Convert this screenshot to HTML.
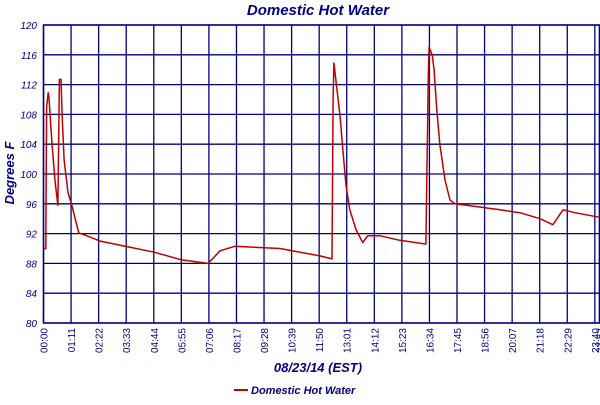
<!DOCTYPE html>
<html><head><meta charset="utf-8"><style>
body{margin:0;background:#fff;width:600px;height:400px;overflow:hidden}
svg{font-family:"Liberation Sans",sans-serif}
</style></head><body>
<svg id="chart" width="600" height="400" xmlns="http://www.w3.org/2000/svg">
<text x="318" y="15" text-anchor="middle" font-size="15" font-weight="bold" font-style="italic" fill="#000080">Domestic Hot Water</text>
<g id="grid"></g><g id="series"></g><g id="labels"></g>
<text transform="translate(14,173) rotate(-90)" text-anchor="middle" font-size="13" font-weight="bold" font-style="italic" fill="#000080">Degrees F</text>
<text x="318" y="372" text-anchor="middle" font-size="13" font-weight="bold" font-style="italic" fill="#000080">08/23/14 (EST)</text>
<g>
<line x1="234" y1="390" x2="248" y2="390" stroke="#c00000" stroke-width="2"/>
<text x="251" y="394" font-size="11" font-weight="bold" font-style="italic" fill="#000080">Domestic Hot Water</text>
</g>
</svg>
<script>
const xTicks=[0,71,142,213,284,355,426,497,568,639,710,781,852,923,994,1065,1136,1207,1278,1349,1420,1432];
const xTickLabels=["00:00","01:11","02:22","03:33","04:44","05:55","07:06","08:17","09:28","10:39","11:50","13:01","14:12","15:23","16:34","17:45","18:56","20:07","21:18","22:29","23:40","23:52"];
const yTicks=[80,84,88,92,96,100,104,108,112,116,120];
const times=[0,6,8,12,14,22,30,37,41,45,48,53,63,73,84,91,107,146,220,285,354,424,455,493,609,661,712,743,746,748,764,771,779,789,805,822,835,867,918,983,985,991,993,1001,1006,1013,1021,1034,1047,1060,1176,1227,1279,1312,1338,1369,1431];
const temps=[90,90,109,110.9,110.4,104,99,95.8,112.7,112.7,108,101.9,97.5,95.8,93.5,92.1,91.8,91,90.2,89.5,88.5,88,89.7,90.3,90,89.5,89,88.6,110,114.9,107.7,103.2,98.5,95.2,92.5,90.8,91.7,91.7,91.1,90.6,90.6,113.3,117,116,114,108.6,103.9,99.2,96.5,96,95.2,94.8,94,93.2,95.2,94.8,94.2];
const L=43.5,R=599.5,T=25,B=323,XMAX=1432;
const xs=m=>L+(m/XMAX)*(R-L);
const ys=v=>B-(v-80)/40*(B-T);
const NS="http://www.w3.org/2000/svg";
const grid=document.getElementById('grid'),lab=document.getElementById('labels'),ser=document.getElementById('series');
function mk(tag,at,parent){const e=document.createElementNS(NS,tag);for(const k in at)e.setAttribute(k,at[k]);parent.appendChild(e);return e;}
yTicks.forEach(v=>{
const l=mk('line',{x1:L,x2:R,y1:ys(v),y2:ys(v),stroke:'#000080','stroke-width':1.3},grid);


const t=mk('text',{x:37,y:ys(v)+4,'text-anchor':'end','font-size':10,'font-style':'italic',fill:'#000080'},lab);
t.textContent=v;


});
xTicks.forEach((m,i)=>{
const l=mk('line',{x1:xs(m),x2:xs(m),y1:T,y2:B,stroke:'#000080','stroke-width':1.3},grid);


const x=xs(m)+4,y=B+5;
const t=mk('text',{x:x,y:y,transform:`rotate(-90 ${x} ${y})`,'text-anchor':'end','font-size':10,fill:'#000080'},lab);
t.textContent=xTickLabels[i];


});
const b=mk('rect',{x:L,y:T,width:R-L,height:B-T,fill:'none',stroke:'#000080','stroke-width':1.5},grid);


const pts=times.map((m,i)=>xs(m).toFixed(1)+','+ys(temps[i]).toFixed(1)).join(' ');
const p=mk('polyline',{points:pts,fill:'none',stroke:'#c00000','stroke-width':1.5,'stroke-linejoin':'round'},ser);


</script>
</body></html>
